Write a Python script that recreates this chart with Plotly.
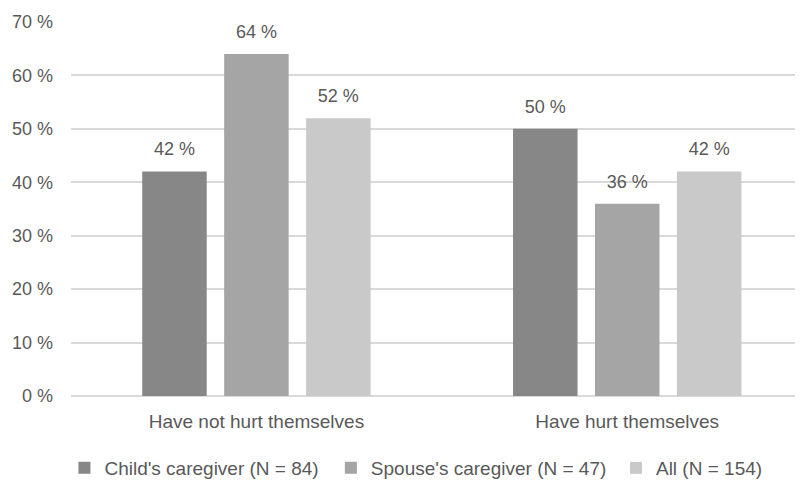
import plotly.graph_objects as go

categories = ["Have not hurt themselves", "Have hurt themselves"]
series_names = ["Child's caregiver (N = 84)", "Spouse's caregiver (N = 47)", "All (N = 154)"]
child_vals = [42, 50]
spouse_vals = [64, 36]
all_vals = [52, 42]
colors = ["#878787", "#a5a5a5", "#c9c9c9"]
legend_names = ["legend", "legend2", "legend3"]
legend_x = [-0.009, 0.355, 0.7445]

font_family = "Liberation Sans, Arial, sans-serif"
text_color = "#595959"
gap = 0.337

fig = go.Figure()
for i, (name, vals, col) in enumerate(zip(series_names, [child_vals, spouse_vals, all_vals], colors)):
    fig.add_trace(go.Bar(
        x=categories, y=vals, name=name, offsetgroup=str(i), legend=legend_names[i],
        marker=dict(color=col, line=dict(width=0)), hoverinfo="skip",
    ))
for i, vals in enumerate([child_vals, spouse_vals, all_vals]):
    fig.add_trace(go.Scatter(
        x=categories, y=vals, mode="markers+text", offsetgroup=str(i),
        marker=dict(size=17, opacity=0, color="white"),
        text=[f"{v} %" for v in vals], textposition="top center",
        textfont=dict(size=18, color=text_color, family=font_family),
        showlegend=False, hoverinfo="skip", cliponaxis=False,
    ))

leg_common = dict(orientation="h", xanchor="left", y=-0.1925, yanchor="middle",
                  font=dict(size=19, color=text_color), itemwidth=30,
                  bgcolor="rgba(0,0,0,0)")

# the page body adds an 8px offset, so the figure is 8px smaller than the window
fig.update_layout(
    width=795, height=472,
    margin=dict(l=63, r=0, t=14, b=84, autoexpand=False),
    paper_bgcolor="white", plot_bgcolor="white",
    barmode="group", bargap=gap, bargroupgap=0.213,
    scattermode="group", scattergap=gap,
    font=dict(family=font_family, size=18, color=text_color),
    showlegend=True,
    legend=dict(x=legend_x[0], **leg_common),
    legend2=dict(x=legend_x[1], **leg_common),
    legend3=dict(x=legend_x[2], **leg_common),
    xaxis=dict(range=[-0.5, 1.474], showgrid=False, zeroline=False, showline=False,
               ticks="", tickfont=dict(size=19, color=text_color), ticklabelstandoff=12,
               automargin=False),
    yaxis=dict(range=[0, 70], dtick=10, ticksuffix=" %", showgrid=True, gridcolor="#d9d9d9",
               gridwidth=1.5, zeroline=True, zerolinecolor="#d9d9d9", zerolinewidth=1.5,
               showline=False, tickfont=dict(size=18, color=text_color), ticklabelstandoff=17,
               automargin=False),
)

fig.write_html("out.html")
